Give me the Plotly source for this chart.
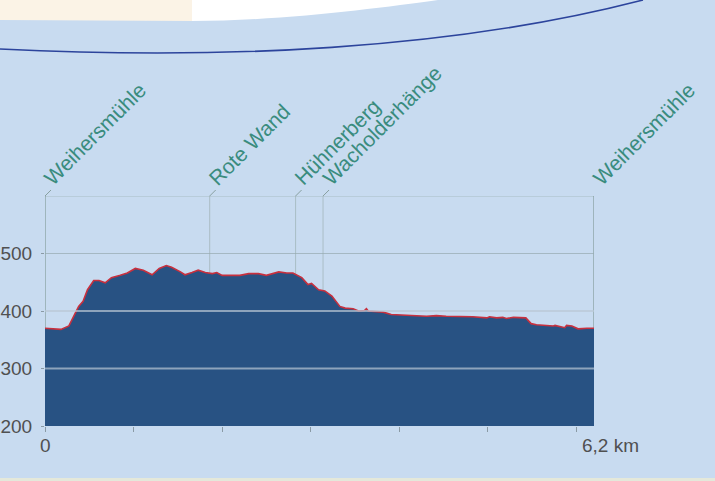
import plotly.graph_objects as go

# ---- data ----
km = [0, 0.14, 0.18, 0.27, 0.31, 0.38, 0.43, 0.48, 0.55, 0.61, 0.68, 0.75, 0.85, 0.93, 1.02,
      1.11, 1.21, 1.29, 1.37, 1.43, 1.53, 1.58, 1.66, 1.73, 1.81, 1.89, 1.94, 2.00, 2.13, 2.20,
      2.30, 2.41, 2.50, 2.64, 2.73, 2.80, 2.90, 2.97, 3.01, 3.09, 3.16, 3.24, 3.33, 3.39, 3.48,
      3.54, 3.61, 3.63, 3.65, 3.82, 3.91, 4.12, 4.31, 4.42, 4.53, 4.83, 4.99, 5.02, 5.10, 5.17,
      5.21, 5.29, 5.43, 5.49, 5.55, 5.74, 5.76, 5.87, 5.89, 5.95, 6.02, 6.12, 6.2]
elev = [370, 369, 368, 374, 387, 408, 417, 437, 453, 453, 449, 458, 462, 466, 474,
        471, 463, 474, 479, 476, 468, 463, 467, 471, 467, 465, 467, 462, 462, 462,
        465, 465, 462, 468, 466, 466, 458, 446, 448, 437, 435, 426, 408, 405, 404,
        400, 401, 404, 400, 398, 394, 392, 391, 392, 391, 390, 388, 390, 388, 389,
        387, 389, 388, 378, 376, 374, 375, 371, 375, 374, 369, 370, 370]
waypoint_names = ["Weihersmühle", "Rote Wand", "Hühnerberg", "Wacholderhänge", "Weihersmühle"]
waypoint_km = [0, 1.86, 2.83, 3.14, 6.2]
y_ticks = [200, 300, 400, 500]
x_ticks = [0, 1, 2, 3, 4, 5, 6]
x_start_label = "0"
x_end_label = "6,2 km"

W, H = 715, 481
ML, MR, MT, MB = 45, 121, 196, 55
PW, PH = W - ML - MR, H - MT - MB

BG = "#c8dbf0"
FILL = "#285283"
RED = "#c8303e"
TEAL = "#3a8c7e"
NUMFONT = "Liberation Sans, Arial, sans-serif"
LBLFONT = "Liberation Sans, Arial, sans-serif"


def px(x, y):
    """pixel -> paper coordinates"""
    return (x - ML) / PW, (H - MB - y) / PH


def path(cmds):
    out = []
    for c, pts in cmds:
        s = c
        for (x, y) in pts:
            a, b = px(x, y)
            s += f" {a:.5f},{b:.5f}"
        out.append(s)
    return " ".join(out)


fig = go.Figure()
fig.add_trace(go.Scatter(x=km, y=elev, mode="lines", fill="tozeroy",
                         fillcolor=FILL, line=dict(color=RED, width=1.6),
                         hoverinfo="skip", showlegend=False))

shapes = []
# decorative header
shapes.append(dict(type="path", xref="paper", yref="paper", layer="below",
                   path=path([("M", [(0, 0)]), ("L", [(192, 0)]), ("L", [(192, 21)]),
                              ("L", [(0, 20)]), ("Z", [])]),
                   fillcolor="#fbf3e6", line=dict(width=0)))
shapes.append(dict(type="path", xref="paper", yref="paper", layer="below",
                   path=path([("M", [(192, 0)]), ("L", [(192, 21)]),
                              ("C", [(280, 21), (380, 8), (438, 0)]), ("Z", [])]),
                   fillcolor="#ffffff", line=dict(width=0)))
shapes.append(dict(type="path", xref="paper", yref="paper", layer="below",
                   path=path([("M", [(0, 49)]), ("C", [(220, 60), (450, 50), (643, 0)])]),
                   line=dict(color="#2c449c", width=1.6)))
# bottom strip
a0, b0 = px(0, 478)
a1, b1 = px(715, 481)
shapes.append(dict(type="rect", xref="paper", yref="paper", layer="below",
                   x0=a0, x1=a1, y0=b0, y1=b1, fillcolor="#e4e8da", line=dict(width=0)))

# frame top line
shapes.append(dict(type="line", xref="x", yref="y", layer="below", x0=0, x1=6.2, y0=600, y1=600,
                   line=dict(color="rgba(150,170,170,0.6)", width=1)))
# waypoint vertical lines
for i, k in enumerate(waypoint_km):
    edge = i == 0 or i == len(waypoint_km) - 1
    shapes.append(dict(type="line", xref="x", yref="y", layer="below",
                       x0=k, x1=k, y0=600, y1=200 if not edge else 190,
                       line=dict(color="rgba(120,145,140,0.8)" if edge else "rgba(150,170,170,0.6)",
                                 width=1.3 if edge else 1)))
    shapes.append(dict(type="line", xref="x", yref="paper", xsizemode="pixel", xanchor=k,
                       ysizemode="pixel", yanchor=1, x0=0, x1=6, y0=0, y1=6,
                       line=dict(color="rgba(120,145,140,0.8)", width=1)))
# horizontal grid
for v in y_ticks[1:]:
    if v == 500:
        shapes.append(dict(type="line", xref="x", yref="y", layer="below", x0=0, x1=6.2, y0=v, y1=v,
                           line=dict(color="rgba(150,170,175,0.7)", width=1)))
    else:
        shapes.append(dict(type="line", xref="x", yref="y", layer="above", x0=0, x1=6.2, y0=v, y1=v,
                           line=dict(color="rgba(185,200,212,0.7)", width=2)))

annotations = []
for name, k in zip(waypoint_names, waypoint_km):
    annotations.append(dict(x=k, y=1, xref="x", yref="paper", text=name, showarrow=False,
                            textangle=-45, xanchor="left", yanchor="bottom",
                            xshift=-8, yshift=4,
                            font=dict(family=LBLFONT, size=21, color=TEAL)))
annotations.append(dict(x=0, y=0, xref="x", yref="paper", text=x_start_label, showarrow=False,
                        xanchor="center", yanchor="top", yshift=-7,
                        font=dict(family=NUMFONT, size=19, color="#505050")))
annotations.append(dict(x=6.2, y=0, xref="x", yref="paper", text=x_end_label, showarrow=False,
                        xanchor="left", yanchor="top", yshift=-7, xshift=-14,
                        font=dict(family=NUMFONT, size=19, color="#505050")))

fig.update_layout(
    width=W, height=H, margin=dict(l=ML, r=MR, t=MT, b=MB, autoexpand=False),
    paper_bgcolor=BG, plot_bgcolor="rgba(0,0,0,0)",
    shapes=shapes, annotations=annotations, showlegend=False,
    xaxis=dict(range=[0, 6.2], tickvals=x_ticks, showticklabels=False, ticks="outside",
               ticklen=5, tickcolor="#8a9aa5", showgrid=False, zeroline=False, showline=False,
               fixedrange=True, automargin=False),
    yaxis=dict(range=[200, 600], tickvals=y_ticks, ticks="outside", ticklen=3,
               tickcolor="#8a9aa5", showgrid=False, zeroline=False, showline=False,
               ticklabelstandoff=5, automargin=False,
               tickfont=dict(family=NUMFONT, size=19, color="#505050"), fixedrange=True),
)

fig.write_html("out.html", config={"displayModeBar": False},
               post_script="document.body.style.margin='0';document.body.style.padding='0';")
